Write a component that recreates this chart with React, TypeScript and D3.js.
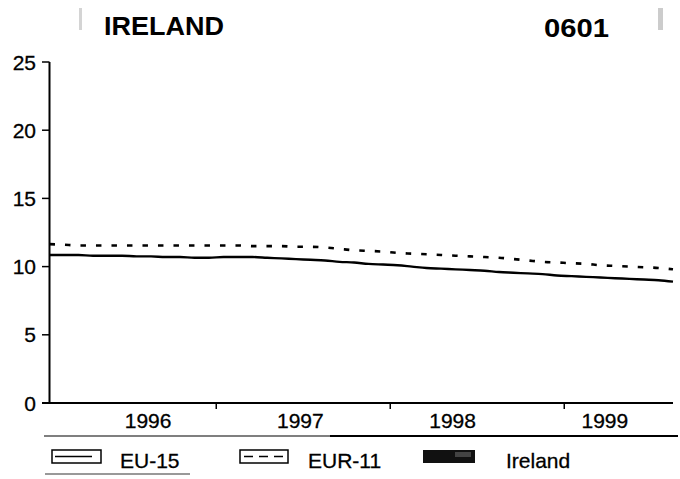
import React from 'react';
import * as d3 from 'd3';

const title = 'IRELAND';
const code = '0601';
const yTicks = [0, 5, 10, 15, 20, 25];
const years = ['1996', '1997', '1998', '1999'];
const seriesNames = ['EU-15', 'EUR-11', 'Ireland'];

// monthly values, Jan 1996 .. Aug 1999
const eu15 = [
  10.85, 10.85, 10.85, 10.8, 10.8, 10.8, 10.75, 10.75, 10.7, 10.7, 10.65, 10.65,
  10.7, 10.7, 10.7, 10.65, 10.6, 10.55, 10.5, 10.45, 10.35, 10.3, 10.2, 10.15,
  10.1, 10.0, 9.9, 9.85, 9.8, 9.75, 9.7, 9.6, 9.55, 9.5, 9.45, 9.35,
  9.3, 9.25, 9.2, 9.15, 9.1, 9.05, 9.0, 8.9,
];
const eur11 = [
  11.65, 11.6, 11.55, 11.55, 11.55, 11.55, 11.55, 11.55, 11.55, 11.55, 11.55, 11.55,
  11.55, 11.55, 11.5, 11.5, 11.5, 11.45, 11.45, 11.4, 11.3, 11.2, 11.15, 11.1,
  11.0, 10.95, 10.9, 10.85, 10.8, 10.75, 10.7, 10.65, 10.55, 10.45, 10.35, 10.3,
  10.25, 10.2, 10.1, 10.05, 10.0, 9.95, 9.9, 9.8,
];

const W = 680;
const H = 479;
const FONT = '"Liberation Sans", Arial, Helvetica, sans-serif';
const TXT = { stroke: '#000', strokeWidth: 0.3 };

export default function App() {
  const n = eu15.length;
  const x = d3.scaleLinear().domain([0, n - 1]).range([49.5, 673]);
  const y = d3.scaleLinear().domain([0, 25]).range([403, 62]);
  const line = d3
    .line<number>()
    .x((_, i) => x(i))
    .y((d) => y(d))
    .curve(d3.curveMonotoneX);

  const boundaries = years.slice(1).map((_, i) => (i + 1) * 12 - 0.5);
  // labels spread evenly along the axis, as in the original
  const labelPos = years.map((_, i) => x(6.8 + i * 10.5));

  return (
    <svg
      width={W}
      height={H}
      style={{ position: 'absolute', left: 0, top: 0, background: '#fff' }}
      fontFamily={FONT}
    >
      <rect x={0} y={0} width={W} height={H} fill="#fff" />
      {/* scan marks */}
      <rect x={79} y={8} width={3} height={22} fill="#aaa" opacity={0.5} />
      <rect x={658} y={8} width={5} height={22} fill="#999" opacity={0.5} />

      <text x={104} y={35} fontSize={26} fontWeight="bold" textLength={120} lengthAdjust="spacingAndGlyphs">
        {title}
      </text>
      <text x={544} y={37} fontSize={26} fontWeight="bold" textLength={65} lengthAdjust="spacingAndGlyphs">
        {code}
      </text>

      {/* y axis */}
      <line x1={49.5} x2={49.5} y1={y(25)} y2={y(0)} stroke="#000" strokeWidth={2} />
      {yTicks.map((t) => (
        <g key={t}>
          <line x1={42} x2={49.5} y1={y(t)} y2={y(t)} stroke="#000" strokeWidth={1.5} />
          <text x={36} y={y(t) + 7.5} fontSize={21} textAnchor="end" {...TXT}>
            {t}
          </text>
        </g>
      ))}

      {/* x axis */}
      <line x1={42} x2={673} y1={y(0)} y2={y(0)} stroke="#000" strokeWidth={2} />
      {boundaries.map((b) => (
        <line key={b} x1={x(b)} x2={x(b)} y1={y(0)} y2={y(0) + 6} stroke="#000" strokeWidth={1.5} />
      ))}
      {years.map((yr, i) => (
        <text key={yr} x={labelPos[i]} y={428} fontSize={21} textAnchor="middle" {...TXT}>
          {yr}
        </text>
      ))}

      {/* series */}
      <path d={line(eur11) || ''} fill="none" stroke="#000" strokeWidth={2.6} strokeDasharray="5.5 10" />
      <path d={line(eu15) || ''} fill="none" stroke="#000" strokeWidth={2.4} />

      {/* legend rules */}
      <line x1={44} x2={330} y1={436} y2={436} stroke="#555" strokeWidth={1.3} />
      <line x1={330} x2={678} y1={436} y2={436} stroke="#000" strokeWidth={2} />
      <line x1={45} x2={190} y1={474} y2={474} stroke="#777" strokeWidth={1.3} />

      {/* legend */}
      <g>
        <rect x={52} y={450} width={49} height={13} fill="none" stroke="#000" strokeWidth={1.5} />
        <line x1={55} x2={92} y1={456.5} y2={456.5} stroke="#000" strokeWidth={1.5} />
        <text x={120} y={468} fontSize={21} {...TXT}>
          {seriesNames[0]}
        </text>

        <rect x={240} y={450} width={48} height={13} fill="none" stroke="#000" strokeWidth={1.5} />
        <line x1={244} x2={284} y1={456.5} y2={456.5} stroke="#000" strokeWidth={1.5} strokeDasharray="9 6" />
        <text x={308} y={468} fontSize={21} {...TXT}>
          {seriesNames[1]}
        </text>

        <rect x={423} y={450} width={52} height={13} fill="#111" />
        <rect x={455} y={452} width={16} height={5} fill="#666" opacity={0.6} />
        <text x={506} y={468} fontSize={21} {...TXT}>
          {seriesNames[2]}
        </text>
      </g>
    </svg>
  );
}
